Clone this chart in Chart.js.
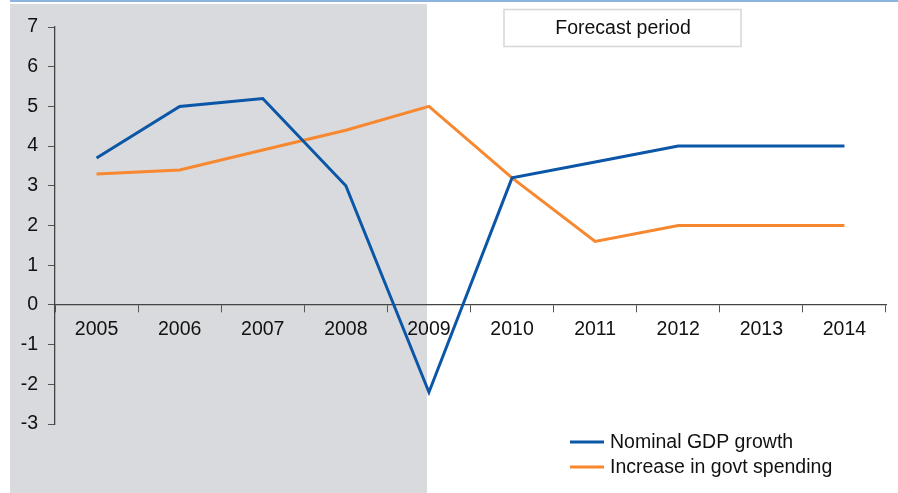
<!DOCTYPE html>
<html>
<head>
<meta charset="utf-8">
<script src="https://cdn.jsdelivr.net/npm/chart.js@4/dist/chart.umd.min.js"></script>
<style>
  html, body { margin: 0; padding: 0; background: #fff; }
  #wrap { position: relative; width: 898px; height: 493px; }
</style>
</head>
<body>
<div id="wrap"><canvas id="gdpChart" width="898" height="493"></canvas></div>
<script>
const years = ["2005", "2006", "2007", "2008", "2009", "2010", "2011", "2012", "2013", "2014"];
const nominalGdp = [3.7, 5.0, 5.2, 3.0, -2.2, 3.2, 3.6, 4.0, 4.0, 4.0];
const govtSpending = [3.3, 3.4, 3.9, 4.4, 5.0, 3.2, 1.6, 2.0, 2.0, 2.0];
const yTicks = [-3, -2, -1, 0, 1, 2, 3, 4, 5, 6, 7];
const forecastStart = "2009";
const boxLabel = "Forecast period";

const FONT = "'Liberation Sans', Arial, sans-serif";

// grey history band, top rule and the "Forecast period" box
const backdrop = {
  id: "backdrop",
  beforeDraw(chart) {
    const ctx = chart.ctx;
    const x = chart.scales.x;
    const edge = x.getPixelForValue(years.indexOf(forecastStart)) - 2;
    ctx.save();
    ctx.fillStyle = "#d9dadd";
    ctx.fillRect(10, 4, edge - 10, chart.height - 4);
    ctx.fillStyle = "#8db4e0";
    ctx.fillRect(10, 0, chart.width - 10, 2);

    ctx.fillStyle = "#ffffff";
    ctx.fillRect(504, 9.5, 237, 37);
    ctx.strokeStyle = "#d6d6d6";
    ctx.lineWidth = 1.5;
    ctx.strokeRect(504, 9.5, 237, 37);
    ctx.fillStyle = "#111";
    ctx.font = "19.5px " + FONT;
    ctx.textAlign = "center";
    ctx.textBaseline = "middle";
    ctx.fillText(boxLabel, 623, 28.5);
    ctx.restore();
  },
};

// legend in the lower right corner
const cornerLegend = {
  id: "cornerLegend",
  afterDraw(chart) {
    const ctx = chart.ctx;
    ctx.save();
    ctx.font = "19.5px " + FONT;
    ctx.textBaseline = "middle";
    chart.data.datasets.forEach(function (ds, i) {
      const y = 442 + i * 25;
      ctx.strokeStyle = ds.borderColor;
      ctx.lineWidth = 3;
      ctx.beginPath();
      ctx.moveTo(570, y);
      ctx.lineTo(604, y);
      ctx.stroke();
      ctx.fillStyle = "#111";
      ctx.fillText(ds.label, 610, y + 1);
    });
    ctx.restore();
  },
};

new Chart(document.getElementById("gdpChart").getContext("2d"), {
  type: "line",
  data: {
    labels: years,
    datasets: [
      {
        label: "Nominal GDP growth",
        data: nominalGdp,
        borderColor: "#0b56a6",
        borderWidth: 3,
        pointRadius: 0,
        tension: 0,
      },
      {
        label: "Increase in govt spending",
        data: govtSpending,
        borderColor: "#f7882f",
        borderWidth: 3,
        pointRadius: 0,
        tension: 0,
      },
    ],
  },
  options: {
    responsive: false,
    animation: false,
    devicePixelRatio: 1,
    layout: { padding: { left: 0, right: 12, top: 27, bottom: 69 } },
    plugins: {
      legend: { display: false },
      tooltip: { enabled: false },
    },
    scales: {
      x: {
        position: { y: 0 },
        offset: true,
        grid: {
          offset: true,
          drawOnChartArea: false,
          tickLength: 7,
          color: "#555",
        },
        border: { color: "#444", width: 1.3 },
        ticks: {
          color: "#111",
          padding: 6,
          font: { size: 19.5, family: FONT },
          maxRotation: 0,
        },
      },
      y: {
        min: -3,
        max: 7,
        afterFit(scale) { scale.width = 55; },
        afterBuildTicks(scale) { scale.ticks = yTicks.map(function (v) { return { value: v }; }); },
        grid: {
          drawOnChartArea: false,
          tickLength: 7,
          color: "#555",
        },
        border: { color: "#444", width: 1.3 },
        ticks: {
          color: "#111",
          padding: 10,
          font: { size: 19.5, family: FONT },
        },
      },
    },
  },
  plugins: [backdrop, cornerLegend],
});
</script>
</body>
</html>
